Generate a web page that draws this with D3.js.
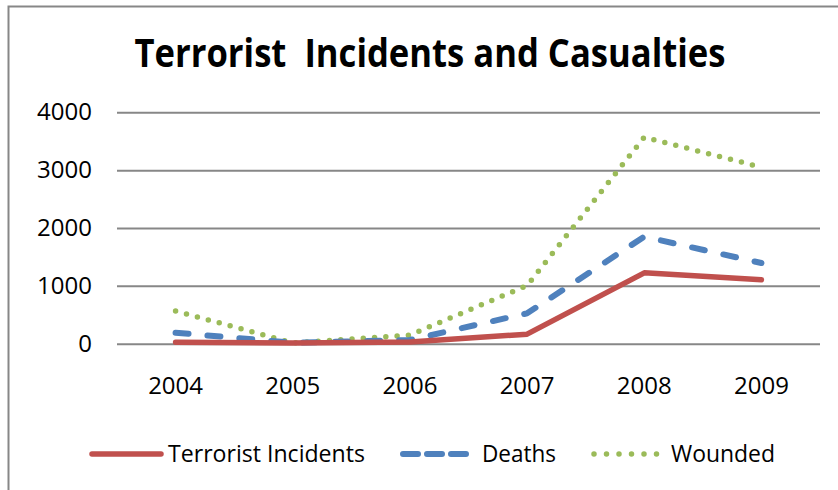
<!DOCTYPE html>
<html>
<head>
<meta charset="utf-8">
<script src="https://cdn.jsdelivr.net/npm/d3@7"></script>
<style>
  body { margin: 0; background: #fff; }
  svg { display: block; font-family: "Open Sans", "Noto Sans", sans-serif; }
</style>
</head>
<body>
<svg id="chart" width="838" height="490"></svg>
<script>
const years = ['2004', '2005', '2006', '2007', '2008', '2009'];
const incidents = [25, 10, 30, 165, 1225, 1105];
const deaths = [190, 15, 65, 525, 1850, 1395];
const wounded = [565, 15, 150, 1005, 3570, 3050];
const yTicks = [0, 1000, 2000, 3000, 4000];

const seriesList = [
  { name: 'Terrorist Incidents', values: incidents, color: '#C0504D', dash: null, keyDash: null, width: 5.5, sample: 69, gap: 76 },
  { name: 'Deaths', values: deaths, color: '#4F81BD', dash: '13,19', keyDash: '15,9', width: 6, sample: 64, gap: 79 },
  { name: 'Wounded', values: wounded, color: '#9BBB59', dash: '0,11.3', keyDash: '0,12.5', width: 5.5, sample: 64, gap: 77 }
];

const svg = d3.select('#chart');

// outer chart frame (only left and top edges are visible in the picture)
svg.append('path')
  .attr('d', 'M8.5,490 V6.5 H838')
  .attr('fill', 'none')
  .attr('stroke', '#878787')
  .attr('stroke-width', 2);

// title, squeezed a bit to match the narrow Calibri look
const title = svg.append('text')
  .attr('x', 430)
  .attr('y', 67)
  .attr('text-anchor', 'middle')
  .style('font-size', '40px')
  .style('font-weight', 'bold')
  .attr('fill', '#000')
  .text('Terrorist\u00a0 Incidents and Casualties');
if (title.node().getComputedTextLength() > 591) {
  title.attr('textLength', 591).attr('lengthAdjust', 'spacingAndGlyphs');
}

const plotLeft = 117, plotRight = 820;
const x = d3.scaleBand().domain(years).range([plotLeft, plotRight]);
const y = d3.scaleLinear().domain([0, 4000]).range([343.7, 112.3]);
const cx = d => x(d) + x.bandwidth() / 2;

// y axis + gridlines
const yAxis = svg.append('g')
  .attr('transform', `translate(${plotLeft},0)`)
  .call(d3.axisLeft(y).tickValues(yTicks).tickFormat(d3.format('d'))
    .tickSize(-(plotRight - plotLeft)).tickPadding(25));
yAxis.select('.domain').remove();
yAxis.selectAll('line').attr('stroke', '#878787').attr('stroke-width', 2);
yAxis.selectAll('text')
  .attr('fill', '#000')
  .style('font-size', '24px')
  .style('font-family', '"Open Sans", sans-serif');

// x axis labels
const xAxis = svg.append('g')
  .attr('transform', `translate(0,${y(0)})`)
  .call(d3.axisBottom(x).tickSize(0).tickPadding(0));
xAxis.select('.domain').remove();
xAxis.selectAll('text')
  .attr('y', 42)
  .attr('dy', '0.35em')
  .attr('fill', '#000')
  .style('font-size', '24px')
  .style('font-family', '"Open Sans", sans-serif');

const line = d3.line()
  .x((d, i) => cx(years[i]))
  .y(d => y(d));

// draw so that incidents ends on top, like the reference
[...seriesList].reverse().forEach(s => {
  svg.append('path')
    .datum(s.values)
    .attr('d', line)
    .attr('fill', 'none')
    .attr('stroke', s.color)
    .attr('stroke-width', s.width)
    .attr('stroke-linecap', 'round')
    .attr('stroke-linejoin', 'round')
    .attr('stroke-dasharray', s.dash);
});

// legend
const legendY = 454;
const keyWidths = { 'Terrorist Incidents': 197, 'Deaths': 74, 'Wounded': 104 };
let lx = 92;
seriesList.forEach(s => {
  svg.append('line')
    .attr('x1', lx).attr('x2', lx + s.sample)
    .attr('y1', legendY).attr('y2', legendY)
    .attr('stroke', s.color)
    .attr('stroke-width', s.width)
    .attr('stroke-linecap', 'round')
    .attr('stroke-dasharray', s.keyDash);
  const t = svg.append('text')
    .attr('x', lx + s.gap)
    .attr('y', legendY)
    .attr('dy', '0.35em')
    .attr('fill', '#000')
    .style('font-size', '24px')
    .text(s.name);
  const w = keyWidths[s.name];
  if (t.node().getComputedTextLength() > w) {
    t.attr('textLength', w).attr('lengthAdjust', 'spacingAndGlyphs');
  }
  lx += s.gap + Math.min(w, t.node().getComputedTextLength()) + 38;
});
</script>
</body>
</html>
